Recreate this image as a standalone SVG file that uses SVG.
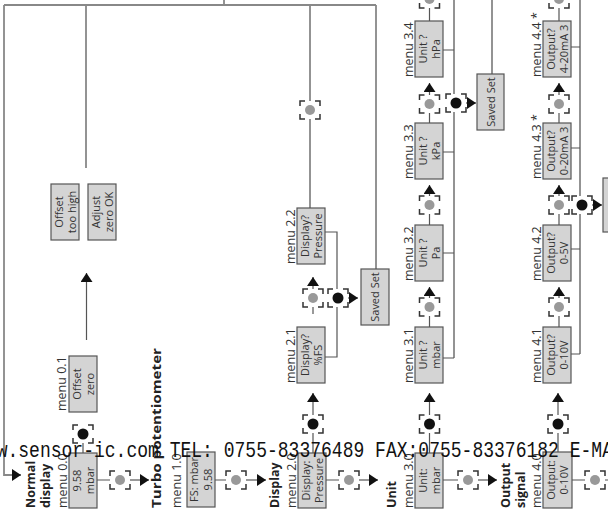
<svg xmlns="http://www.w3.org/2000/svg" xmlns:xlink="http://www.w3.org/1999/xlink" width="608" height="512" viewBox="0 0 608 512">
<style>
.box{fill:#d4d4d4;stroke:#555;stroke-width:1.2}
.bt{font-family:"Open Sans","DejaVu Sans",sans-serif;font-size:11px;fill:#333;text-anchor:middle}
.lb{font-family:"Open Sans","DejaVu Sans",sans-serif;font-size:12.5px;fill:#333}
.bd{font-family:"Open Sans","DejaVu Sans",sans-serif;font-size:12.5px;font-weight:bold;fill:#222}
.ln{fill:none;stroke:#888;stroke-width:1.8}
.sl{fill:none;stroke:#555;stroke-width:1.2}
.ar{fill:none;stroke:#555;stroke-width:1.2;marker-end:url(#ah)}
.wm{font-family:"Liberation Mono",monospace;font-size:22px;fill:#111}
</style>
<defs>
<marker id="ah" viewBox="0 0 9 12" refX="9" refY="6" markerWidth="9" markerHeight="12" markerUnits="userSpaceOnUse" orient="auto"><path d="M0,0L9,6L0,12Z" fill="#111"/></marker>
<g id="bk"><rect x="-10" y="-9" width="20" height="18" fill="#fff"/><path d="M-10,-4V-9H-5M5,-9H10V-4M10,4V9H5M-5,9H-10V4" fill="none" stroke="#333" stroke-width="1.5"/></g>
<g id="gd"><use xlink:href="#bk"/><circle r="5" fill="#999"/></g>
<g id="bkd"><use xlink:href="#bk"/><circle r="5.5" fill="#111"/></g>
</defs>
<rect width="608" height="512" fill="#fff"/>

<g id="connectors">
<path class="ln" d="M4,5H376M224,0V5M86,5V168M310,5V208M376,5V269M492,0V74M454,0V358M580,0V354"/>
<path class="ln" d="M4,5V475H21" style="marker-end:url(#ah)"/>
<path class="ar" d="M86.5,340V273"/>
<path class="sl" d="M83,443V453"/>
<path class="sl" d="M97,480H111M215,480H227M326,480H340M443,480H458M572,480H586M604,480H608"/>
<path class="ar" d="M129,480H149"/>
<path class="ar" d="M245,480H266"/>
<path class="ar" d="M358,480H378"/>
<path class="ar" d="M477,480H497"/>
<path class="sl" d="M313,453V433M429.5,453V433M558,452V433"/>
<path class="ar" d="M313,415V393"/>
<path class="ar" d="M429.5,415V393"/>
<path class="ar" d="M558,415V393"/>
<path class="sl" d="M313,307V314"/>
<path class="ar" d="M313,289V277"/>
<path class="sl" d="M325,232H337V289M337,307V357H325"/>
<path class="ar" d="M348,298H358"/>
<path class="sl" d="M429.5,316V327M429.5,214V225M429.5,113V123M429.5,8V21"/>
<path class="ar" d="M429.5,298V287"/>
<path class="ar" d="M429.5,196V185"/>
<path class="ar" d="M429.5,95V83"/>
<path class="sl" d="M443,358H454M443,253H454M443,152H454M443,50H454"/>
<path class="ar" d="M466,103H476"/>
<path class="sl" d="M559,316V327M559,214V225M559,113V123M559,8V21"/>
<path class="ar" d="M559,298V287"/>
<path class="ar" d="M559,196V185"/>
<path class="ar" d="M559,95V83"/>
<path class="sl" d="M571,354H580M571,249H580M571,148H580M571,47H580"/>
<path class="ar" d="M592,205H602"/>
</g>

<g id="brackets">
<use xlink:href="#bkd" x="83" y="434"/>
<use xlink:href="#gd" x="120" y="480"/>
<use xlink:href="#gd" x="236" y="480"/>
<use xlink:href="#gd" x="349" y="480"/>
<use xlink:href="#gd" x="468" y="480"/>
<use xlink:href="#gd" x="595" y="480"/>
<use xlink:href="#bkd" x="313" y="424"/>
<use xlink:href="#bkd" x="429.5" y="424"/>
<use xlink:href="#bkd" x="558" y="424"/>
<use xlink:href="#gd" x="310" y="110"/>
<use xlink:href="#gd" x="313" y="298"/>
<use xlink:href="#bkd" x="338" y="298"/>
<use xlink:href="#gd" x="429.5" y="307"/>
<use xlink:href="#gd" x="429.5" y="205"/>
<use xlink:href="#gd" x="429.5" y="104"/>
<use xlink:href="#gd" x="429.5" y="-1"/>
<use xlink:href="#bkd" x="456" y="103"/>
<use xlink:href="#gd" x="559" y="307"/>
<use xlink:href="#gd" x="559" y="205"/>
<use xlink:href="#gd" x="559" y="104"/>
<use xlink:href="#gd" x="559" y="-1"/>
<use xlink:href="#bkd" x="582" y="205"/>
</g>

<g id="n00">
<rect class="box" x="69" y="453" width="28" height="55"/>
<text class="bt" transform="translate(81,480.5) rotate(-90)">9.58</text>
<text class="bt" transform="translate(94,480.5) rotate(-90)">mbar</text>
<text class="bd" transform="translate(35,508) rotate(-90)">Normal</text>
<text class="bd" transform="translate(50,508) rotate(-90)">display</text>
<text class="lb" transform="translate(67,508) rotate(-90)">menu 0.0</text>
</g>
<g id="n01">
<rect class="box" x="69" y="356" width="28" height="56"/>
<text class="bt" transform="translate(81,384) rotate(-90)">Offset</text>
<text class="bt" transform="translate(94,384) rotate(-90)">zero</text>
<text class="lb" transform="translate(66,411) rotate(-90)">menu 0.1</text>
</g>
<g id="n0a">
<rect class="box" x="51" y="184" width="28" height="56"/>
<text class="bt" transform="translate(63,212) rotate(-90)">Offset</text>
<text class="bt" transform="translate(76,212) rotate(-90)">too high</text>
</g>
<g id="n0b">
<rect class="box" x="88" y="184" width="28" height="56"/>
<text class="bt" transform="translate(100,212) rotate(-90)">Adjust</text>
<text class="bt" transform="translate(113,212) rotate(-90)">zero OK</text>
</g>

<g id="n10">
<rect class="box" x="187" y="452" width="28" height="55"/>
<text class="bt" transform="translate(198,479.5) rotate(-90)">FS: mbar</text>
<text class="bt" transform="translate(212,479.5) rotate(-90)">9.58</text>
<text class="bd" transform="translate(161,508) rotate(-90)" textLength="160" lengthAdjust="spacingAndGlyphs">Turbo potentiometer</text>
<text class="lb" transform="translate(181,508) rotate(-90)">menu 1.0</text>
</g>

<g id="n20">
<rect class="box" x="298" y="453" width="28" height="55"/>
<text class="bt" transform="translate(310,480.5) rotate(-90)">Display:</text>
<text class="bt" transform="translate(323,480.5) rotate(-90)">Pressure</text>
<text class="bd" transform="translate(279,508) rotate(-90)">Display</text>
<text class="lb" transform="translate(296,508) rotate(-90)">menu 2.0</text>
</g>
<g id="n21">
<rect class="box" x="297" y="327" width="28" height="56"/>
<text class="bt" transform="translate(309,355) rotate(-90)">Display?</text>
<text class="bt" transform="translate(322,355) rotate(-90)">%FS</text>
<text class="lb" transform="translate(295,383) rotate(-90)">menu 2.1</text>
</g>
<g id="n22">
<rect class="box" x="297" y="208" width="28" height="56"/>
<text class="bt" transform="translate(309,236) rotate(-90)">Display?</text>
<text class="bt" transform="translate(322,236) rotate(-90)">Pressure</text>
<text class="lb" transform="translate(295,264) rotate(-90)">menu 2.2</text>
</g>
<g id="save2">
<rect class="box" x="361" y="269" width="28" height="56"/>
<text class="bt" transform="translate(379,297) rotate(-90)">Saved Set</text>
</g>

<g id="n30">
<rect class="box" x="415" y="453" width="28" height="55"/>
<text class="bt" transform="translate(427,480.5) rotate(-90)">Unit:</text>
<text class="bt" transform="translate(440,480.5) rotate(-90)">mbar</text>
<text class="bd" transform="translate(396,508) rotate(-90)">Unit</text>
<text class="lb" transform="translate(413,508) rotate(-90)">menu 3.0</text>
</g>
<g id="n31">
<rect class="box" x="415" y="327" width="28" height="56"/>
<text class="bt" transform="translate(427,355) rotate(-90)">Unit ?</text>
<text class="bt" transform="translate(440,355) rotate(-90)">mbar</text>
<text class="lb" transform="translate(413,383) rotate(-90)">menu 3.1</text>
</g>
<g id="n32">
<rect class="box" x="415" y="225" width="28" height="56"/>
<text class="bt" transform="translate(427,253) rotate(-90)">Unit ?</text>
<text class="bt" transform="translate(440,253) rotate(-90)">Pa</text>
<text class="lb" transform="translate(413,281) rotate(-90)">menu 3.2</text>
</g>
<g id="n33">
<rect class="box" x="415" y="123" width="28" height="56"/>
<text class="bt" transform="translate(427,151) rotate(-90)">Unit ?</text>
<text class="bt" transform="translate(440,151) rotate(-90)">kPa</text>
<text class="lb" transform="translate(413,179) rotate(-90)">menu 3.3</text>
</g>
<g id="n34">
<rect class="box" x="415" y="21" width="28" height="56"/>
<text class="bt" transform="translate(427,49) rotate(-90)">Unit ?</text>
<text class="bt" transform="translate(440,49) rotate(-90)">hPa</text>
<text class="lb" transform="translate(413,77) rotate(-90)">menu 3.4</text>
</g>
<g id="save3">
<rect class="box" x="477" y="74" width="27" height="56"/>
<text class="bt" transform="translate(495,102) rotate(-90)">Saved Set</text>
</g>

<g id="n40">
<rect class="box" x="543" y="452" width="29" height="56"/>
<text class="bt" transform="translate(555,480) rotate(-90)">Output:</text>
<text class="bt" transform="translate(568,480) rotate(-90)">0-10V</text>
<text class="bd" transform="translate(510,508) rotate(-90)">Output</text>
<text class="bd" transform="translate(525,508) rotate(-90)">signal</text>
<text class="lb" transform="translate(541,508) rotate(-90)">menu 4.0</text>
</g>
<g id="n41">
<rect class="box" x="543" y="327" width="28" height="56"/>
<text class="bt" transform="translate(555,355) rotate(-90)">Output?</text>
<text class="bt" transform="translate(568,355) rotate(-90)">0-10V</text>
<text class="lb" transform="translate(541,383) rotate(-90)">menu 4.1</text>
</g>
<g id="n42">
<rect class="box" x="543" y="225" width="28" height="56"/>
<text class="bt" transform="translate(555,253) rotate(-90)">Output?</text>
<text class="bt" transform="translate(568,253) rotate(-90)">0-5V</text>
<text class="lb" transform="translate(541,281) rotate(-90)">menu 4.2</text>
</g>
<g id="n43">
<rect class="box" x="543" y="123" width="28" height="56"/>
<text class="bt" transform="translate(555,151) rotate(-90)">Output?</text>
<text class="bt" transform="translate(568,151) rotate(-90)">0-20mA 3</text>
<text class="lb" transform="translate(541,179) rotate(-90)">menu 4.3 *</text>
</g>
<g id="n44">
<rect class="box" x="543" y="21" width="28" height="56"/>
<text class="bt" transform="translate(555,49) rotate(-90)">Output?</text>
<text class="bt" transform="translate(568,49) rotate(-90)">4-20mA 3</text>
<text class="lb" transform="translate(541,77) rotate(-90)">menu 4.4 *</text>
</g>
<g id="save4">
<rect class="box" x="603" y="178" width="28" height="54"/>
</g>

<text class="wm" x="-25" y="457" textLength="638" lengthAdjust="spacingAndGlyphs">www.sensor-ic.com TEL: 0755-83376489 FAX:0755-83376182 E-MA</text>
</svg>
